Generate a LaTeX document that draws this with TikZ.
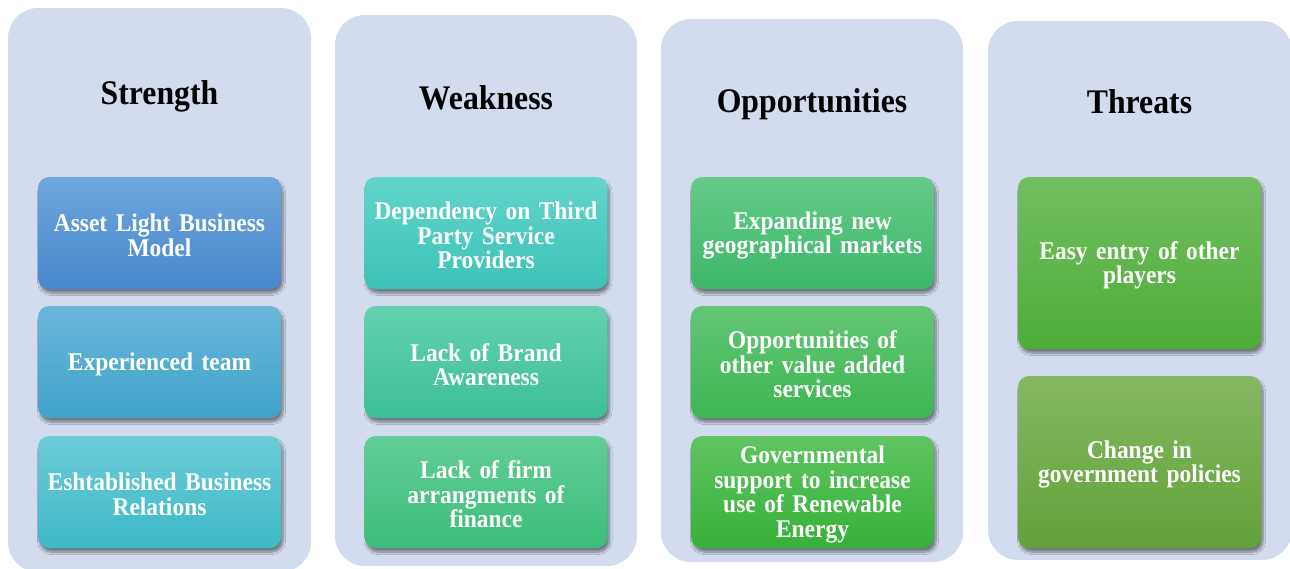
\documentclass[tikz,border=0pt]{standalone}
\usepackage{fontspec}
\setmainfont{Liberation Serif}[FakeStretch=0.92]
\usetikzlibrary{shadows.blur}
\definecolor{panelc}{HTML}{D2DCEE}
\definecolor{sAt}{HTML}{6FA6DD}\definecolor{sAb}{HTML}{4788CB}
\definecolor{sBt}{HTML}{6AB6D9}\definecolor{sBb}{HTML}{41A2CA}
\definecolor{sCt}{HTML}{6CCCD7}\definecolor{sCb}{HTML}{3EB8C7}
\definecolor{wAt}{HTML}{62D5CB}\definecolor{wAb}{HTML}{3DC2B7}
\definecolor{wBt}{HTML}{63D1B0}\definecolor{wBb}{HTML}{3DBF98}
\definecolor{wCt}{HTML}{62CD98}\definecolor{wCb}{HTML}{3CBD7A}
\definecolor{oAt}{HTML}{65CA88}\definecolor{oAb}{HTML}{3DB86A}
\definecolor{oBt}{HTML}{63C676}\definecolor{oBb}{HTML}{3DB651}
\definecolor{oCt}{HTML}{60C462}\definecolor{oCb}{HTML}{36B139}
\definecolor{tAt}{HTML}{72BE60}\definecolor{tAb}{HTML}{4EAD38}
\definecolor{tBt}{HTML}{85B862}\definecolor{tBb}{HTML}{62A13A}
\newcommand{\itemfont}{\bfseries\fontsize{25.5}{24.5}\selectfont}
\tikzset{
  itemtext/.style={inner sep=0pt, text width=240pt, align=center, text=white,
    font=\itemfont, yshift=-2.5pt}}
\begin{document}
\begin{tikzpicture}[x=1pt,y=-1pt,
  panel/.style={fill=panelc, rounded corners=30pt},
  title/.style={anchor=base, font=\bfseries\fontsize{34.5}{38}\selectfont, text=black, inner sep=0pt},
  item/.style={rounded corners=11pt, minimum width=243pt, inner sep=0pt,
    blur shadow={shadow xshift=2pt, shadow yshift=-4pt, shadow blur radius=2.5pt, shadow blur steps=10, shadow opacity=45},
    label={[itemtext]center:#1}},
  short/.style={minimum height=112pt},
  tall/.style={minimum height=172pt}]
\useasboundingbox (0,0) rectangle (1290,568);
% panels
\fill[panel] (8,8) rectangle (311,572);
\fill[panel] (335,15) rectangle (637,566);
\fill[panel] (661,19) rectangle (963,562);
\fill[panel] (988,21) rectangle (1292,560);
% titles
\node[title] (tS) at (159.5,104) {Strength};
\node[title] (tW) at (486,109) {Weakness};
\node[title] (tO) at (812,112) {Opportunities};
\node[title] (tT) at (1139.5,113) {Threats};
% strength
\node[item={Asset Light Business\\Model}, short, top color=sAt, bottom color=sAb] (s1) at (159.5,233) {};
\node[item={Experienced team}, short, top color=sBt, bottom color=sBb] (s2) at (159.5,362) {};
\node[item={Eshtablished Business\\Relations}, short, top color=sCt, bottom color=sCb] (s3) at (159.5,492) {};
% weakness
\node[item={Dependency on Third\\Party Service\\Providers}, short, top color=wAt, bottom color=wAb] (w1) at (486,233) {};
\node[item={Lack of Brand\\Awareness}, short, top color=wBt, bottom color=wBb] (w2) at (486,362) {};
\node[item={Lack of firm\\arrangments of\\finance}, short, top color=wCt, bottom color=wCb] (w3) at (486,492) {};
% opportunities
\node[item={Expanding new\\geographical markets}, short, top color=oAt, bottom color=oAb] (o1) at (812.5,233) {};
\node[item={Opportunities of\\other value added\\services}, short, top color=oBt, bottom color=oBb] (o2) at (812.5,362) {};
\node[item={Governmental\\support to increase\\use of Renewable\\Energy}, short, top color=oCt, bottom color=oCb] (o3) at (812.5,492) {};
% threats
\node[item={Easy entry of other\\players}, tall, top color=tAt, bottom color=tAb] (th1) at (1139.5,263) {};
\node[item={Change in\\government policies}, tall, top color=tBt, bottom color=tBb] (th2) at (1139.5,462) {};
\end{tikzpicture}
\end{document}
